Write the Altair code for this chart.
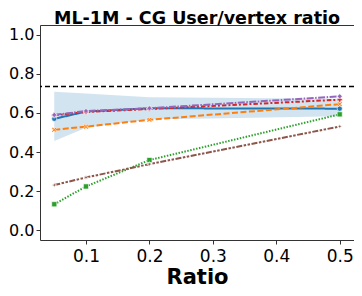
import altair as alt
import pandas as pd

ratio = [0.05, 0.1, 0.2, 0.5]
series_names = ["A", "B", "C", "D", "E", "F"]
blue = [0.570, 0.607, 0.624, 0.622]
orange = [0.514, 0.530, 0.565, 0.645]
green = [0.133, 0.224, 0.359, 0.593]
red = [0.588, 0.605, 0.620, 0.668]
purple = [0.590, 0.610, 0.624, 0.685]
brown = [0.231, 0.270, 0.338, 0.531]
band_lo = [0.456, 0.524, 0.566, 0.583]
band_hi = [0.708, 0.700, 0.680, 0.673]
ref_value = [0.735]

colors = ["#1f77b4", "#ff7f0e", "#2ca02c", "#d62728", "#9467bd", "#8c564b"]
dashes = [[1, 0], [6, 2.5], [1.5, 1.5], [4.5, 2, 2, 2], [7, 1.5, 1.5, 1.5], [6, 1.5, 2.5, 1.5, 2.5, 1.5]]
xpath = "M-1,-0.6L-0.6,-1L0,-0.4L0.6,-1L1,-0.6L0.4,0L1,0.6L0.6,1L0,0.4L-0.6,1L-1,0.6L-0.4,0Z"
star4 = "M0,-1L0.25,-0.25L1,0L0.25,0.25L0,1L-0.25,0.25L-1,0L-0.25,-0.25Z"
shapes = ["circle", xpath, "square", "cross", "diamond", star4]

rows = []
for name, vals in zip(series_names, [blue, orange, green, red, purple, brown]):
    for r, v in zip(ratio, vals):
        rows.append({"series": name, "ratio": r, "value": v})
df = pd.DataFrame(rows)
band_df = pd.DataFrame({"ratio": ratio, "lo": band_lo, "hi": band_hi})
ref_df = pd.DataFrame({"y": ref_value})

FONT = "DejaVu Sans"
xscale = alt.Scale(domain=[0.0275, 0.5225], zero=False, nice=False)
yscale = alt.Scale(domain=[-0.05, 1.05], zero=False, nice=False)
xaxis = alt.Axis(values=[0.1, 0.2, 0.3, 0.4, 0.5], format=".1f", grid=False, title="Ratio",
                 titleFont=FONT, titleFontSize=21, titleFontWeight="bold", titleColor="black",
                 labelFont=FONT, labelFontSize=17, labelColor="black", tickSize=4, labelPadding=4,
                 tickColor="#333", domain=False, titlePadding=2)
yaxis = alt.Axis(values=[0, 0.2, 0.4, 0.6, 0.8, 1.0], format=".1f", grid=False, title=None,
                 labelFont=FONT, labelFontSize=16, labelColor="black", tickSize=4, labelPadding=2,
                 tickColor="#333", domain=False)

band = alt.Chart(band_df).mark_area(color="#1f77b4", opacity=0.2).encode(
    x=alt.X("ratio:Q", scale=xscale, axis=xaxis),
    y=alt.Y("lo:Q", scale=yscale, axis=yaxis),
    y2="hi:Q",
)

color_scale = alt.Scale(domain=series_names, range=colors)
lines = alt.Chart(df).mark_line(strokeWidth=2).encode(
    x=alt.X("ratio:Q", scale=xscale),
    y=alt.Y("value:Q", scale=yscale),
    color=alt.Color("series:N", scale=color_scale, legend=None),
    strokeDash=alt.StrokeDash("series:N", scale=alt.Scale(domain=series_names, range=dashes), legend=None),
)
points = alt.Chart(df).mark_point(filled=True, size=26, stroke="white", strokeWidth=0.6, opacity=1).encode(
    x=alt.X("ratio:Q", scale=xscale),
    y=alt.Y("value:Q", scale=yscale),
    fill=alt.Fill("series:N", scale=color_scale, legend=None),
    shape=alt.Shape("series:N", scale=alt.Scale(domain=series_names, range=shapes), legend=None),
)
rule = alt.Chart(ref_df).mark_rule(color="black", strokeDash=[5, 3], strokeWidth=1.5).encode(
    y=alt.Y("y:Q", scale=yscale)
)

chart = alt.layer(band, lines, points, rule).properties(
    width=314, height=215,
    title=alt.Title("ML-1M - CG User/vertex ratio", font=FONT, fontSize=17.5, fontWeight="bold",
                    color="black", anchor="middle", offset=-2),
    autosize=alt.AutoSizeParams(type="none"),
    padding={"left": 32, "top": 17, "right": 0, "bottom": 48},
).configure_view(stroke="#333", strokeWidth=1)

chart.save("out.html", embed_options={"renderer": "svg", "actions": False})
